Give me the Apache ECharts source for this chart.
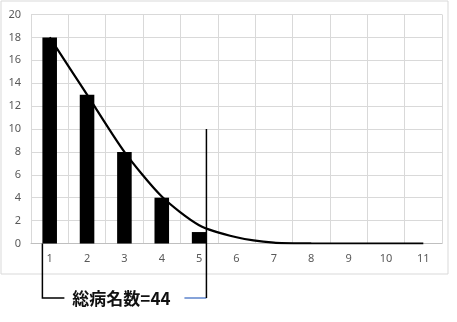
<!DOCTYPE html>
<html>
<head>
<meta charset="utf-8">
<script src="https://cdn.jsdelivr.net/npm/echarts@6/dist/echarts.min.js"></script>
<style>
html,body{margin:0;padding:0;background:#fff;}
#c{width:457px;height:322px;}
</style>
</head>
<body>
<div id="c"></div>
<script>
var categories = ['1','2','3','4','5','6','7','8','9','10','11'];
var barValues = [18, 13, 8, 4, 1, 0, 0, 0, 0, 0, 0];
var curveValues = [18, 13, 8, 4.1, 1.6, 0.55, 0.08, 0.01, 0, 0, 0];
var yTicks = [0, 2, 4, 6, 8, 10, 12, 14, 16, 18, 20];
var annotationText = '総病名数=44';
var bracketFrom = 0, bracketTo = 4, bracketTopValue = 10;

var BAR_RATIO = 0.39;
var chart = echarts.init(document.getElementById('c'), null, {renderer: 'canvas'});
var grid = {left: 31, right: 15, top: 14.5, bottom: 78.5};
var option = {
  animation: false,
  backgroundColor: '#fff',
  grid: grid,
  xAxis: {
    type: 'category',
    data: categories,
    boundaryGap: true,
    axisLine: {show: true, lineStyle: {color: '#bfbfbf', width: 1}},
    axisTick: {show: false},
    axisLabel: {color: '#595959', fontSize: 11, margin: 10, fontFamily: 'Noto Sans'},
    splitLine: {show: true, lineStyle: {color: '#d9d9d9', width: 1}}
  },
  yAxis: {
    type: 'value',
    min: yTicks[0],
    max: yTicks[yTicks.length - 1],
    interval: 2,
    axisLine: {show: false},
    axisTick: {show: false},
    axisLabel: {color: '#595959', fontSize: 11, margin: 10, fontFamily: 'Noto Sans'},
    splitLine: {show: true, lineStyle: {color: '#d9d9d9', width: 1}}
  },
  series: [
    {
      type: 'bar',
      data: barValues,
      barWidth: (BAR_RATIO * 100) + '%',
      itemStyle: {color: '#000'},
      z: 2
    },
    {
      type: 'line',
      data: curveValues,
      smooth: 0.25,
      symbol: 'none',
      lineStyle: {color: '#000', width: 2.2},
      z: 3
    }
  ]
};
chart.setOption(option);

function px(i, v) { return chart.convertToPixel({gridIndex: 0}, [i, v]); }
var p0 = px(0, 0), p1 = px(1, 0);
var band = p1[0] - p0[0];
var half = band * BAR_RATIO / 2;
var leftX = px(bracketFrom, 0)[0] - half;
var rightX = px(bracketTo, 0)[0] + half;
var axisY = p0[1];
var topY = px(bracketTo, bracketTopValue)[1];
var bracketY = axisY + 54.5;
var textCx = (leftX + rightX) / 2 - 3;

chart.setOption({
  graphic: [
    {type: 'rect', shape: {x: 1, y: 1, width: 447, height: 273}, style: {fill: 'none', stroke: '#d9d9d9', lineWidth: 1}, z: 0, silent: true},
    {type: 'polyline', shape: {points: [[leftX, axisY], [leftX, bracketY], [leftX + 22, bracketY]]}, style: {stroke: '#000', lineWidth: 1.5, fill: 'none'}, z: 10},
    {type: 'line', shape: {x1: rightX, y1: topY, x2: rightX, y2: bracketY}, style: {stroke: '#000', lineWidth: 1.5}, z: 10},
    {type: 'line', shape: {x1: rightX - 22, y1: bracketY, x2: rightX, y2: bracketY}, style: {stroke: '#4472c4', lineWidth: 1.3}, z: 9},
    {type: 'text', x: textCx, y: bracketY + 1, style: {text: annotationText, font: 'bold 17px "Noto Sans CJK JP"', fill: '#111', textAlign: 'center', textVerticalAlign: 'middle'}, z: 10}
  ]
});
</script>
</body>
</html>
